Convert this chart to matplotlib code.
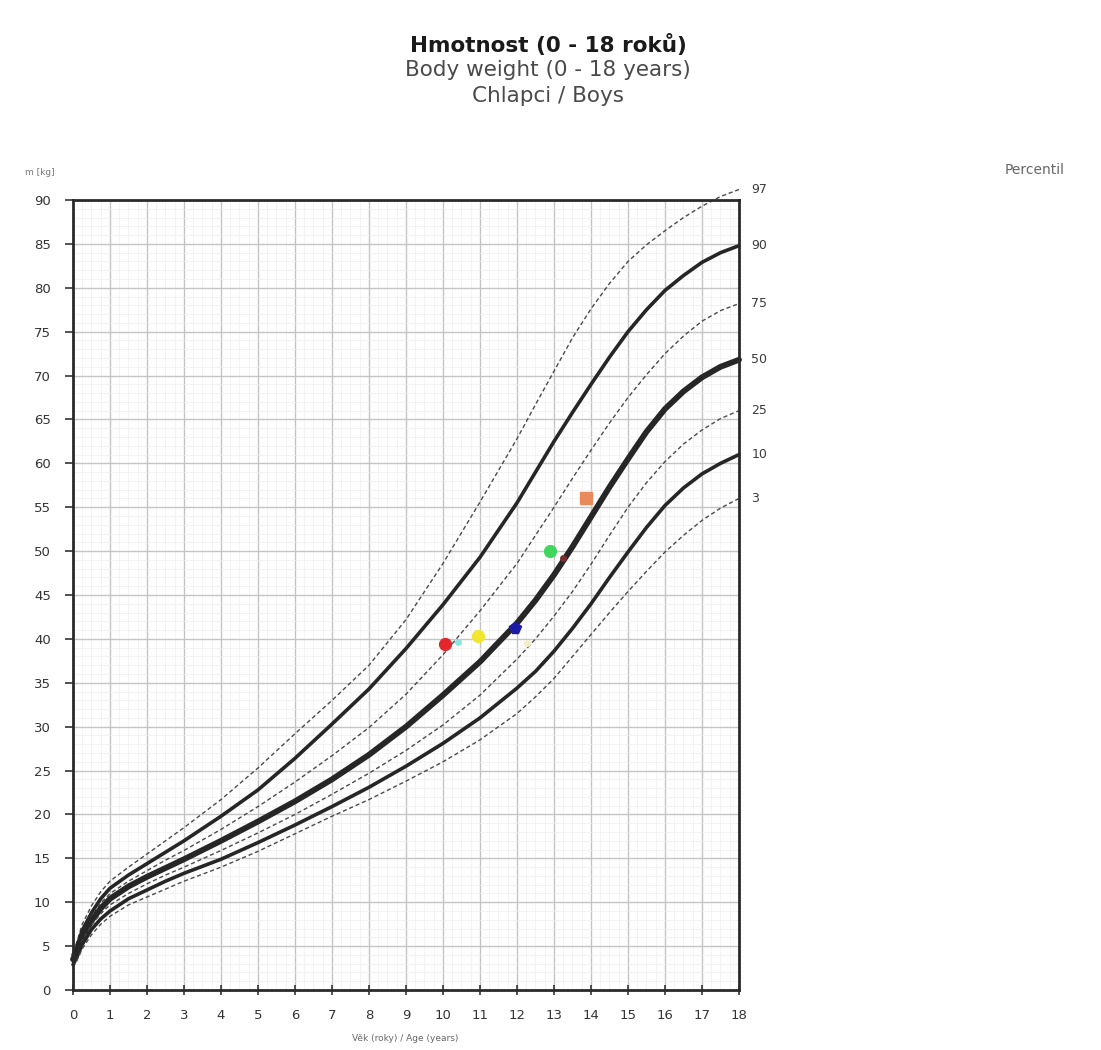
import matplotlib
matplotlib.use("Agg")
import matplotlib.pyplot as plt
from matplotlib.ticker import MultipleLocator

# =========================
# DATA
# =========================
ages = [0, 0.1, 0.25, 0.5, 0.75, 1, 1.5, 2, 2.5, 3, 4, 5, 6, 7, 8, 9, 10, 11, 12,
        12.5, 13, 13.5, 14, 14.5, 15, 15.5, 16, 16.5, 17, 17.5, 18]

p97 = [4.4, 5.4, 7.5, 9.6, 11.2, 12.4, 14.0, 15.5, 17.0, 18.5, 21.7, 25.3, 29.2, 33.0, 37.0, 42.2, 48.6, 55.6, 62.8,
       66.7, 70.5, 74.3, 77.6, 80.5, 83.0, 84.9, 86.5, 88.0, 89.3, 90.4, 91.2]
p90 = [4.0, 4.9, 6.8, 8.8, 10.4, 11.6, 13.1, 14.4, 15.7, 17.0, 19.8, 22.8, 26.4, 30.3, 34.3, 38.9, 43.9, 49.3, 55.5,
       59.0, 62.5, 65.8, 69.0, 72.1, 75.0, 77.5, 79.7, 81.4, 82.9, 84.0, 84.8]
p75 = [3.8, 4.6, 6.4, 8.4, 9.9, 11.0, 12.4, 13.6, 14.8, 15.9, 18.3, 20.9, 23.7, 26.7, 29.9, 33.7, 38.2, 43.2, 48.6,
       51.8, 55.0, 58.3, 61.5, 64.6, 67.5, 70.1, 72.5, 74.5, 76.2, 77.4, 78.2]
p50 = [3.5, 4.3, 6.0, 7.9, 9.3, 10.4, 11.8, 12.9, 13.9, 14.9, 17.0, 19.2, 21.5, 24.0, 26.8, 30.0, 33.6, 37.4, 41.8,
       44.4, 47.3, 50.5, 53.9, 57.3, 60.5, 63.6, 66.2, 68.2, 69.8, 71.0, 71.8]
p25 = [3.2, 4.0, 5.6, 7.4, 8.7, 9.7, 11.0, 12.1, 13.1, 14.0, 15.9, 17.9, 20.0, 22.3, 24.7, 27.3, 30.2, 33.6, 37.7,
       40.0, 42.6, 45.4, 48.5, 51.8, 55.0, 57.8, 60.2, 62.2, 63.8, 65.1, 66.0]
p10 = [2.9, 3.7, 5.2, 6.9, 8.1, 9.0, 10.4, 11.4, 12.4, 13.3, 14.9, 16.8, 18.8, 20.9, 23.1, 25.5, 28.1, 31.0, 34.4,
       36.3, 38.6, 41.2, 44.0, 47.0, 49.9, 52.7, 55.2, 57.2, 58.8, 60.0, 61.0]
p3 = [2.6, 3.3, 4.7, 6.3, 7.5, 8.4, 9.7, 10.6, 11.5, 12.4, 14.0, 15.8, 17.8, 19.8, 21.7, 23.8, 26.0, 28.5, 31.5,
      33.4, 35.5, 38.0, 40.5, 43.0, 45.4, 47.7, 49.9, 51.8, 53.5, 54.9, 56.0]

# mereni ditete
pt_age = [10.05, 10.95, 11.95, 12.89, 13.86]
pt_kg = [39.4, 40.3, 41.3, 50.0, 56.0]
pt_color = ['#e3262b', '#f0e62e', '#1c1ca6', '#3fd65c', '#e98a5c']
pt_marker = ['o', 'o', 'p', 'o', 's']

# drobne tecky (sken)
dot_age = [10.4, 13.24, 12.27]
dot_kg = [39.6, 49.2, 39.5]
dot_color = ['#8fe3e0', '#7a2e2e', '#f3efc4']

curves = [
    (97, p97, 'dash'),
    (90, p90, 'mid'),
    (75, p75, 'dash'),
    (50, p50, 'thick'),
    (25, p25, 'dash'),
    (10, p10, 'mid'),
    (3, p3, 'dash'),
]

# =========================
# PLOT
# =========================
fig = plt.figure(figsize=(11.01, 10.5), dpi=100)
fig.patch.set_facecolor('white')
ax = fig.add_axes([0.0663, 0.0571, 0.6049, 0.7524])

ax.set_xlim(0, 18)
ax.set_ylim(0, 90)

# mrizka
ax.xaxis.set_major_locator(MultipleLocator(1))
ax.xaxis.set_minor_locator(MultipleLocator(0.25))
ax.yaxis.set_major_locator(MultipleLocator(5))
ax.yaxis.set_minor_locator(MultipleLocator(1))
ax.grid(True, which='major', color='#c4c4c4', linewidth=1.0)
ax.grid(True, which='minor', color='#eeeeee', linewidth=0.5)
ax.set_axisbelow(True)

for p, vals, style in curves:
    if style == 'thick':
        ax.plot(ages, vals, color='#262626', linewidth=4.2, solid_capstyle='round',
                solid_joinstyle='round', clip_on=False)
    elif style == 'mid':
        ax.plot(ages, vals, color='#262626', linewidth=2.6, solid_capstyle='round',
                solid_joinstyle='round', clip_on=False)
    else:
        ax.plot(ages, vals, color='#4a4a4a', linewidth=1.0, linestyle=(0, (3, 2)), clip_on=False)
    ax.annotate(str(p), xy=(18, vals[-1]), xytext=(9, 0), textcoords='offset points',
                va='center', ha='left', fontsize=9, color='#3a3a3a', annotation_clip=False)

for a, k, c in zip(dot_age, dot_kg, dot_color):
    ax.plot(a, k, 'o', color=c, markersize=4, zorder=5)

for a, k, c, m in zip(pt_age, pt_kg, pt_color, pt_marker):
    ax.plot(a, k, marker=m, color=c, markersize=8.5, markeredgecolor=c, zorder=6)

# osy
for side in ['left', 'right', 'top', 'bottom']:
    ax.spines[side].set_color('#2a2a2a')
    ax.spines[side].set_linewidth(2.0)

ax.tick_params(axis='y', which='major', direction='out', length=6, width=1.2,
               pad=10, labelsize=9.5, labelcolor='#333333', color='#333333')
ax.tick_params(axis='x', which='major', direction='inout', length=7, width=1.2,
               pad=10, labelsize=9.5, labelcolor='#333333', color='#333333')
ax.tick_params(which='minor', length=0)
ax.set_xticks(range(0, 19))
ax.set_yticks(range(0, 91, 5))

# texty
fig.text(0.498, 0.957, 'Hmotnost (0 - 18 roků)', ha='center', va='center',
         fontsize=15.5, fontweight='bold', color='#1a1a1a')
fig.text(0.498, 0.933, 'Body weight (0 - 18 years)', ha='center', va='center',
         fontsize=15.5, color='#4a4a4a')
fig.text(0.498, 0.909, 'Chlapci / Boys', ha='center', va='center',
         fontsize=15.5, color='#4a4a4a')

fig.text(0.94, 0.838, 'Percentil', ha='center', va='center', fontsize=10, color='#666666')
fig.text(0.036, 0.836, 'm [kg]', ha='center', va='center', fontsize=6.5, color='#777777')
fig.text(0.368, 0.0114, 'Věk (roky) / Age (years)', ha='center', va='center',
         fontsize=6.5, color='#666666')

fig.savefig('out.png', dpi=100)
